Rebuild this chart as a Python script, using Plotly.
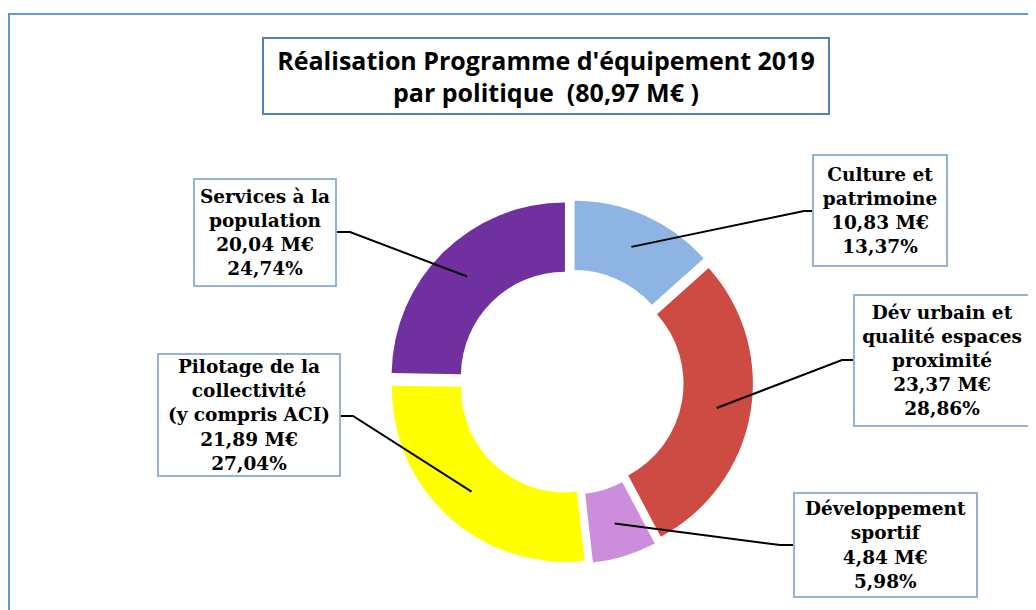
import math
import plotly.graph_objects as go

# ---- data ----
categories = ["Culture et patrimoine", "Dév urbain et qualité espaces proximité",
              "Développement sportif", "Pilotage de la collectivité (y compris ACI)",
              "Services à la population"]
label_lines = [["Culture et", "patrimoine"],
               ["Dév urbain et", "qualité espaces", "proximité"],
               ["Développement", "sportif"],
               ["Pilotage de la", "collectivité", "(y compris ACI)"],
               ["Services à la", "population"]]
values_meur = [10.83, 23.37, 4.84, 21.89, 20.04]
percents = [13.37, 28.86, 5.98, 27.04, 24.74]
total_meur = "80,97"
colors = ["#8EB4E3", "#CD4B43", "#CC8EDC", "#FFFF00", "#7030A0"]

W, H = 1036, 610
OFF = 8  # page body margin
def px(x):
    return (x - OFF) / W
def py(y):
    return 1 - (y - OFF) / H

# pie geometry (px in window)
cx, cy = 571, 382
extent = 182
pull = 0.05
half = extent

fig = go.Figure()
fig.add_trace(go.Pie(
    labels=categories, values=values_meur, sort=False, direction="clockwise",
    rotation=0, hole=0.6, pull=[pull] * len(values_meur),
    marker=dict(colors=colors, line=dict(width=0)),
    textinfo="none", showlegend=False, hoverinfo="label+value+percent",
    domain=dict(x=[px(cx - half), px(cx + half)], y=[py(cy + half), py(cy - half)]),
))

# label boxes: (left, top, right, bottom) px, connection side and y, elbow x
boxes = [
    dict(box=(812, 154, 948, 267), side="left", cy=211, ex=804),
    dict(box=(853, 294, 1031, 427), side="left", cy=360, ex=842),
    dict(box=(793, 492, 978, 598), side="left", cy=545, ex=780),
    dict(box=(157, 353, 341, 477), side="right", cy=416, ex=353),
    dict(box=(193, 178, 337, 287), side="right", cy=232, ex=350),
]

def fmt(v):
    return f"{v:.2f}".replace(".", ",")

annotations = []
shapes = []
total = sum(values_meur)
cum = 0.0
r_anchor = 148
for i, v in enumerate(values_meur):
    mid = (cum + v / 2) / total * 2 * math.pi
    cum += v
    ax = cx + r_anchor * math.sin(mid)
    ay = cy - r_anchor * math.cos(mid)
    b = boxes[i]
    l, t, r, bt = b["box"]
    text = "<br>".join(label_lines[i] + [fmt(v) + " M€", fmt(percents[i]) + "%"])
    annotations.append(dict(
        x=px(l), y=py(t), xref="paper", yref="paper", xanchor="left", yanchor="top",
        text="<b>" + text + "</b>", showarrow=False, align="center", valign="middle",
        width=(r - l) - 4, height=(bt - t) - 4, borderpad=0,
        bordercolor="#95B3D7", borderwidth=2, bgcolor="white",
        font=dict(family="DejaVu Serif", size=18.5, color="black"),
    ))
    edge = l if b["side"] == "left" else r
    path = (f"M {px(ax)},{py(ay)} L {px(b['ex'])},{py(b['cy'])} "
            f"L {px(edge)},{py(b['cy'])}")
    shapes.append(dict(type="path", xref="paper", yref="paper", path=path,
                       line=dict(color="black", width=2)))

# title box
annotations.append(dict(
    x=px(262), y=py(37), xref="paper", yref="paper", xanchor="left", yanchor="top",
    text="<b>Réalisation Programme d'équipement 2019<br>par politique  (" + total_meur + " M€ )</b>",
    showarrow=False, align="center", valign="middle",
    width=830 - 262 - 4, height=115 - 37 - 4, borderpad=0,
    bordercolor="#4F81BD", borderwidth=2, bgcolor="white",
    font=dict(family="Open Sans", size=25, color="black"),
))

# outer frame
shapes.append(dict(type="rect", xref="paper", yref="paper",
                   x0=px(9), y0=py(14), x1=px(1070), y1=py(660),
                   line=dict(color="#5B9BD5", width=2), layer="below"))

fig.update_layout(
    width=W, height=H, margin=dict(l=0, r=0, t=0, b=0),
    paper_bgcolor="white", plot_bgcolor="white",
    annotations=annotations, shapes=shapes,
)
fig.write_html("out.html")
